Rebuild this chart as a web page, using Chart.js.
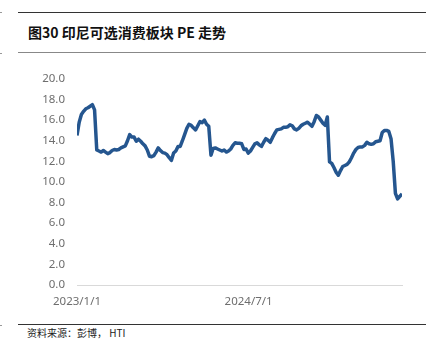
<!DOCTYPE html>
<html>
<head>
<meta charset="utf-8">
<script src="https://cdn.jsdelivr.net/npm/chart.js@4"></script>
<style>
  body { margin: 0; width: 435px; height: 354px; background: #fff; position: relative; overflow: hidden; }
  .rule { position: absolute; left: 18px; width: 408px; }
  .nub { position: absolute; left: 0; width: 2px; border-top: 1px solid #999; }
  #title { position: absolute; left: 28px; top: 22px; font: bold 14px "Noto Sans CJK SC", sans-serif; color: #111; white-space: nowrap; line-height: 20px; }
  #source { position: absolute; left: 27px; top: 326px; font: 10px "Noto Sans CJK SC", sans-serif; color: #222; line-height: 14px; }
  #wrap { position: absolute; left: 0; top: 60px; width: 435px; height: 260px; }
</style>
</head>
<body>
<div class="nub" style="top:12px"></div>
<div class="nub" style="top:53px"></div>
<div class="nub" style="top:325px"></div>
<div class="rule" style="top:12px;border-top:1.5px solid #333"></div>
<div id="title">图30 印尼可选消费板块 PE 走势</div>
<div class="rule" style="top:52px;border-top:1.5px solid #888"></div>
<div id="wrap"><canvas id="peChart"></canvas></div>
<div class="rule" style="top:324px;border-top:1.5px solid #333"></div>
<div id="source">资料来源：彭博， HTI</div>
<script>
// weekly PE readings, first week starting 2023/1/1
const startDate = '2023/1/1';
const pe = [
  14.5, 15.8, 16.55, 16.85, 17.1, 17.2, 17.35, 17.5, 17.0, 13.1,
  13.0, 12.9, 13.05, 12.9, 12.75, 12.85, 13.05, 13.15, 13.1, 13.15,
  13.3, 13.4, 13.5, 14.0, 14.6, 14.35, 14.35, 13.95, 14.15, 13.95,
  13.7, 13.5, 13.1, 12.5, 12.45, 12.55, 12.9, 13.3, 13.05, 12.85,
  12.8, 12.65, 12.35, 12.1, 12.8, 13.0, 13.45, 13.45, 14.0, 14.6,
  15.2, 15.6, 15.5, 15.25, 15.05, 15.45, 15.85, 15.75, 16.0, 15.6,
  15.4, 12.6, 13.25, 13.3, 13.2, 13.1, 13.0, 13.1, 12.9, 13.0,
  13.2, 13.55, 13.8, 13.75, 13.75, 13.7, 13.15, 13.2, 12.8, 13.0,
  13.35, 13.7, 13.8, 13.6, 13.45, 13.85, 14.2, 14.05, 13.85, 14.3,
  14.7, 15.05, 15.1, 15.15, 15.3, 15.3, 15.35, 15.55, 15.45, 15.15,
  15.05, 15.2, 15.45, 15.6, 15.7, 15.8, 15.6, 15.4, 15.85, 16.45,
  16.3, 16.0, 15.7, 15.5, 16.3, 11.95, 11.8, 11.4, 10.95, 10.65,
  11.1, 11.5, 11.6, 11.7, 11.95, 12.35, 12.8, 13.15, 13.35, 13.4,
  13.4, 13.55, 13.85, 13.7, 13.65, 13.7, 13.9, 13.95, 14.0, 14.8,
  15.0, 15.0, 14.9, 14.2, 12.0, 8.9, 8.35, 8.6, 8.85
];
const tickLabels = ['2023/1/1', '2024/7/1'];

const DAY = 86400000;
const dayOf = s => Math.round((new Date(s) - new Date(startDate)) / DAY);
const points = pe.map((v, i) => ({ x: i * 7, y: v }));

const tickFont = { family: '"Noto Sans", sans-serif', size: 11.5 };
const tickColor = '#6e6e6e';

new Chart(document.getElementById('peChart'), {
  type: 'line',
  data: {
    datasets: [{
      data: points,
      borderColor: '#25568f',
      borderWidth: 3.5,
      pointRadius: 0,
      tension: 0,
      borderJoinStyle: 'round'
    }]
  },
  options: {
    responsive: true,
    maintainAspectRatio: false,
    animation: false,
    layout: { padding: { top: 15.5, right: 33, left: 0, bottom: 0 } },
    plugins: { legend: { display: false }, tooltip: { enabled: false } },
    scales: {
      x: {
        type: 'linear',
        min: 0,
        max: (pe.length - 1) * 7,
        grid: { display: false, drawTicks: false },
        border: { display: true, color: '#d9d9d9', width: 1 },
        afterBuildTicks: axis => { axis.ticks = tickLabels.map(t => ({ value: dayOf(t) })); },
        afterFit: scale => { scale.height = 35; },
        ticks: {
          autoSkip: false,
          maxRotation: 0,
          padding: 10,
          color: tickColor,
          font: tickFont,
          callback: value => tickLabels.find(t => dayOf(t) === value) || ''
        }
      },
      y: {
        min: 0,
        max: 20,
        grid: { display: false, drawTicks: false },
        border: { display: false },
        afterFit: scale => { scale.width = 77; },
        ticks: {
          stepSize: 2,
          padding: 12,
          color: tickColor,
          font: tickFont,
          callback: v => v.toFixed(1)
        }
      }
    }
  }
});
</script>
</body>
</html>
